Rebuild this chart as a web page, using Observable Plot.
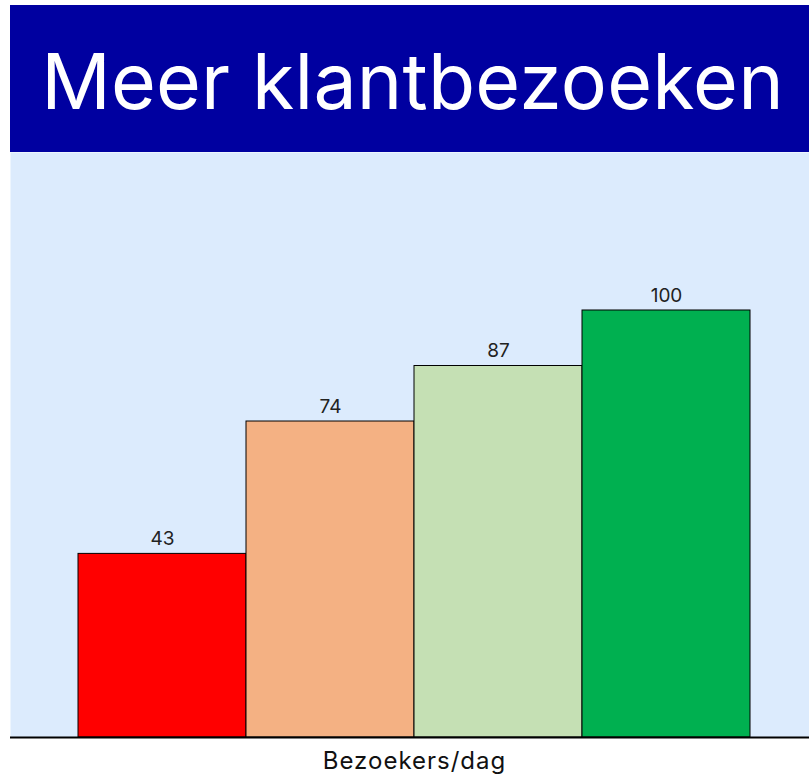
<!DOCTYPE html>
<html>
<head>
<meta charset="utf-8">
<script src="https://cdn.jsdelivr.net/npm/d3@7"></script>
<script src="https://cdn.jsdelivr.net/npm/@observablehq/plot@0.6"></script>
<style>
  html, body { margin: 0; padding: 0; background: #ffffff; }
  #wrap { position: absolute; left: 10px; top: 5px; width: 799px; }
  #title {
    height: 147px; background: #0000a0; color: #ffffff;
    font-family: "Inter", "Liberation Sans", sans-serif; font-size: 77px;
    display: flex; align-items: center; justify-content: center;
    padding-left: 6px; padding-top: 4px; box-sizing: border-box; letter-spacing: 0.2px;
  }
  #chart svg { display: block; }
</style>
</head>
<body>
<div id="wrap">
  <div id="title">Meer klantbezoeken</div>
  <div id="chart"></div>
</div>
<script>
const categories = ["1", "2", "3", "4"];
const values = [43, 74, 87, 100];
const colors = ["#ff0000", "#f4b183", "#c5e0b4", "#00b050"];
const xLabel = "Bezoekers/dag";

const data = categories.map((c, i) => ({cat: c, value: values[i], color: colors[i]}));

const chart = Plot.plot({
  width: 799,
  height: 628,
  marginLeft: 0,
  marginRight: 0,
  marginTop: 0,
  marginBottom: 43,
  style: {fontFamily: "Inter, 'Liberation Sans', sans-serif", background: "transparent"},
  x: {domain: categories, range: [68, 740], padding: 0, axis: null},
  y: {domain: [0, 137], axis: null},
  marks: [
    Plot.frame({fill: "#dcebfd", stroke: null}),
    Plot.barY(data, {x: "cat", y: "value", fill: "color", stroke: "#000000", strokeWidth: 1, inset: 0}),
    Plot.text(data, {x: "cat", y: "value", text: d => String(d.value), dy: -15, fontSize: 19, fill: "#222222"}),
    Plot.ruleY([0], {stroke: "#000000", strokeWidth: 2}),
    Plot.text([xLabel], {frameAnchor: "bottom", dx: 4.5, dy: 31, fontSize: 24, fill: "#111111", text: d => d})
  ]
});
chart.querySelectorAll("text").forEach(t => {
  if (t.textContent === xLabel) t.setAttribute("letter-spacing", "1px");
});
document.getElementById("chart").appendChild(chart);
</script>
</body>
</html>
